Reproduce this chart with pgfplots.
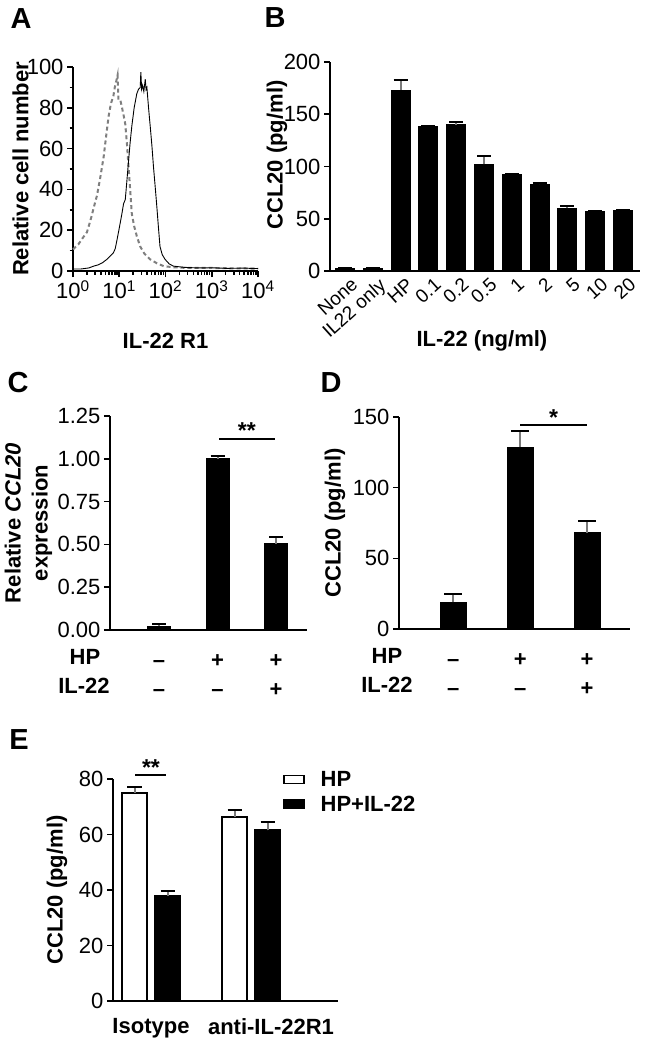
\documentclass[border=0pt]{standalone}
\usepackage{fontspec}
\setmainfont{Liberation Sans}
\usepackage{pgfplots}
\pgfplotsset{compat=1.18}
\definecolor{errgray}{HTML}{7A7A7A}
\definecolor{isogray}{HTML}{7F7F7F}
\pgfplotsset{
  panel/.style={
    scale only axis, anchor=south west, clip=false,
    axis lines=left, axis line style={line width=2pt,-},
    x axis line style={-}, y axis line style={-},
    tick align=outside, major tick length=6pt, minor tick length=3.5pt,
    tick style={black, line width=1.6pt},
    /pgf/number format/assume math mode=true,
    tick label style={font=\fontsize{22}{24}\selectfont},
    label style={font=\fontsize{22}{27}\selectfont\bfseries},
    ylabel style={anchor=center},
    xlabel style={anchor=center},
  },
  barpanel/.style={
    panel, ybar, ymin=0,
    xtick style={draw=none},
    error bars/y dir=plus, error bars/y explicit,
    error bars/error bar style={line width=2pt, errgray},
    error bars/error mark options={rotate=90, black, line width=2pt, mark size=7pt},
  },
  signrows/.style={
    xtick={0,1,2},
    xticklabel style={anchor=base, yshift=-31pt, font=\fontsize{22}{24}\selectfont\bfseries},
    extra x ticks={0,1,2},
    extra x tick labels={–,–,+},
    extra x tick style={xticklabel style={yshift=-29pt}},
    xticklabels={–,+,+},
  },
  sqlegend/.style={legend image code/.code={\draw[##1, line width=1.6pt] (0pt,-4pt) rectangle (20pt,4pt);}},
}
\tikzset{letter/.style={font=\fontsize{29}{30}\selectfont\bfseries, inner sep=0pt}}
\begin{document}
\begin{tikzpicture}
\path[use as bounding box] (0,0) rectangle (646pt,-1045pt);
\node[letter] at (21pt,-19pt) {A};
\node[letter] at (275pt,-18pt) {B};
\node[letter] at (18pt,-383pt) {C};
\node[letter] at (331pt,-383pt) {D};
\node[letter] at (19pt,-740pt) {E};

% ---------------- A ----------------
\begin{axis}[panel, at={(73pt,-271pt)}, width=185pt, height=204pt,
  xmode=log, xmin=1, xmax=10000, ymin=0, ymax=100,
  xtick={1,10,100,1000,10000},
  xticklabels={10\textsuperscript{0},10\textsuperscript{1},10\textsuperscript{2},10\textsuperscript{3},10\textsuperscript{4}},
  minor xtick={2,3,4,5,6,7,8,9,20,30,40,50,60,70,80,90,200,300,400,500,600,700,800,900,2000,3000,4000,5000,6000,7000,8000,9000},
  ytick={0,20,40,60,80,100}, minor y tick num=1,
  ylabel={Relative cell number}, xlabel={IL-22 R1},
  ylabel style={at={(axis description cs:-0.284,0.5)}},
  xlabel style={at={(axis description cs:0.5,-0.34)}}]
\addplot[isogray, line width=2pt, dash pattern=on 4pt off 3pt] coordinates {
(1,10.6) (1.3,13) (1.6,16) (2.0,19) (2.4,25) (2.8,31) (3.3,37) (3.9,46) (4.6,56) (5.2,66) (5.9,76) (6.6,82) (7.5,86) (8.0,90) (8.6,93) (9.2,96) (9.6,84) (10.5,84) (11.5,80) (12.5,76) (13.5,72) (14.7,62) (15.9,51) (17.2,40) (18.7,28) (21,22) (24,17) (28.4,12) (35,8.5) (46.7,5.7) (65,3.8) (91,2.4) (150,1.8) (300,1.5) (1000,1.5) (3000,1.3) (10000,1.2)};
\addplot[black, line width=0.9pt] coordinates {
(1,1) (1.5,1) (2.2,1.5) (2.8,2.4) (3.5,3) (4.3,4) (5.4,5.7) (6.5,7.5) (7.5,9) (8.2,11) (8.9,15) (10,21) (11.4,28) (12.4,33) (13.5,35) (14.6,44) (15.9,54) (17.2,63) (18.7,71) (21,80) (24,87) (26,89) (28.4,90) (29.3,97.5) (30.5,89) (32,91) (34,88) (36.5,94) (38,89) (39.6,90) (43,80) (46.7,71) (51,61) (55,51) (60,41) (64.7,32) (70,22) (76,12) (85,8) (98,5.7) (120,3.5) (148,2.4) (250,1.8) (500,1.5) (1000,1.6) (2000,1.3) (5000,1.4) (10000,1.2)};
\end{axis}

% ---------------- B ----------------
\begin{axis}[barpanel, at={(330pt,-271pt)}, width=310pt, height=209pt,
  xmin=-0.54, xmax=10.61, ymax=200, bar width=19pt,
  ytick={0,50,100,150,200},
  xtick={0,1,2,3,4,5,6,7,8,9,10},
  xticklabels={None,IL22 only,HP,0.1,0.2,0.5,1,2,5,10,20},
  xticklabel style={rotate=42, anchor=north east, inner sep=1pt, xshift=5pt, yshift=-2pt, font=\fontsize{19}{21}\selectfont},
  ylabel={CCL20 (pg/ml)}, xlabel={IL-22 (ng/ml)},
  ylabel style={at={(axis description cs:-0.171,0.555)}},
  xlabel style={at={(axis description cs:0.49,-0.335)}}]
\addplot[fill=black, draw=black, line width=1pt] coordinates {
(0,2) +- (0,0.5)
(1,2.5) +- (0,0.3)
(2,173) +- (0,10)
(3,138) +- (0,0.5)
(4,140) +- (0,3)
(5,102) +- (0,8)
(6,92) +- (0,1)
(7,83) +- (0,1)
(8,60) +- (0,2.5)
(9,57) +- (0,0.5)
(10,58) +- (0,0.5)};
\end{axis}

% ---------------- C ----------------
\begin{axis}[barpanel, signrows, at={(110pt,-630pt)}, width=197pt, height=214pt,
  xmin=-0.84, xmax=2.53, ymax=1.25, bar width=23pt,
  ytick={0,0.25,0.5,0.75,1,1.25},
  yticklabel style={/pgf/number format/.cd, fixed, fixed zerofill, precision=2},
  ylabel={Relative \textit{CCL20}\\expression},
  ylabel style={align=center, at={(axis description cs:-0.414,0.5)}}]
\addplot[fill=black, draw=black, line width=1pt] coordinates {
(0,0.023) +- (0,0.013)
(1,1.0) +- (0,0.018)
(2,0.504) +- (0,0.037)};
\draw[line width=2pt] (axis cs:1.03,1.116) -- (axis cs:1.98,1.116);
\node[anchor=base, font=\fontsize{23}{24}\selectfont\bfseries, inner sep=0pt] at (axis cs:1.5,1.116) {**};
\end{axis}
\node[font=\fontsize{22}{24}\selectfont\bfseries] at (85pt,-657pt) {HP};
\node[font=\fontsize{22}{24}\selectfont\bfseries] at (84pt,-686pt) {IL-22};

% ---------------- D ----------------
\begin{axis}[barpanel, signrows, at={(399pt,-629pt)}, width=231pt, height=212pt,
  xmin=-0.81, xmax=2.64, ymax=150, bar width=26pt,
  error bars/error mark options={rotate=90, black, line width=2pt, mark size=9pt},
  ytick={0,50,100,150},
  ylabel={CCL20 (pg/ml)},
  ylabel style={at={(axis description cs:-0.277,0.5)}}]
\addplot[fill=black, draw=black, line width=1pt] coordinates {
(0,18.8) +- (0,6.2)
(1,128.7) +- (0,11.3)
(2,68) +- (0,8.7)};
\draw[line width=2pt] (axis cs:1.0,144.3) -- (axis cs:2.0,144.3);
\node[anchor=base, font=\fontsize{23}{24}\selectfont\bfseries, inner sep=0pt] at (axis cs:1.5,144.3) {*};
\end{axis}
\node[font=\fontsize{22}{24}\selectfont\bfseries] at (387pt,-656pt) {HP};
\node[font=\fontsize{22}{24}\selectfont\bfseries] at (387pt,-685pt) {IL-22};

% ---------------- E ----------------
\begin{axis}[barpanel, at={(113pt,-1001pt)}, width=225pt, height=222pt,
  ybar=8pt, bar width=25pt,
  xmin=-0.38, xmax=1.87, ymax=80,
  ytick={0,20,40,60,80},
  xtick={0,1.2},
  xticklabels={Isotype,anti-IL-22R1},
  xticklabel style={yshift=-8pt, font=\fontsize{22}{24}\selectfont\bfseries},
  ylabel={CCL20 (pg/ml)},
  ylabel style={at={(axis description cs:-0.249,0.5)}},
  legend style={at={(axis description cs:0.755,1.045)}, anchor=north west, draw=none, fill=none,
    font=\fontsize{22}{24}\selectfont\bfseries, row sep=4pt, inner sep=0pt,
    /tikz/every odd column/.append style={column sep=14pt}},
  legend cell align=left]
\addplot[fill=white, draw=black, line width=2pt, sqlegend] coordinates {
(0,75) +- (0,2.2)
(1,66.3) +- (0,2.7)};
\addlegendentry{HP}
\addplot[fill=black, draw=black, line width=2pt, sqlegend] coordinates {
(0,38) +- (0,1.5)
(1,61.5) +- (0,2.9)};
\addlegendentry{HP+IL-22}
\draw[line width=2pt] (axis cs:-0.16,81.4) -- (axis cs:0.15,81.4);
\node[anchor=base, font=\fontsize{23}{24}\selectfont\bfseries, inner sep=0pt] at (axis cs:0,81.4) {**};
\end{axis}
\end{tikzpicture}
\end{document}
